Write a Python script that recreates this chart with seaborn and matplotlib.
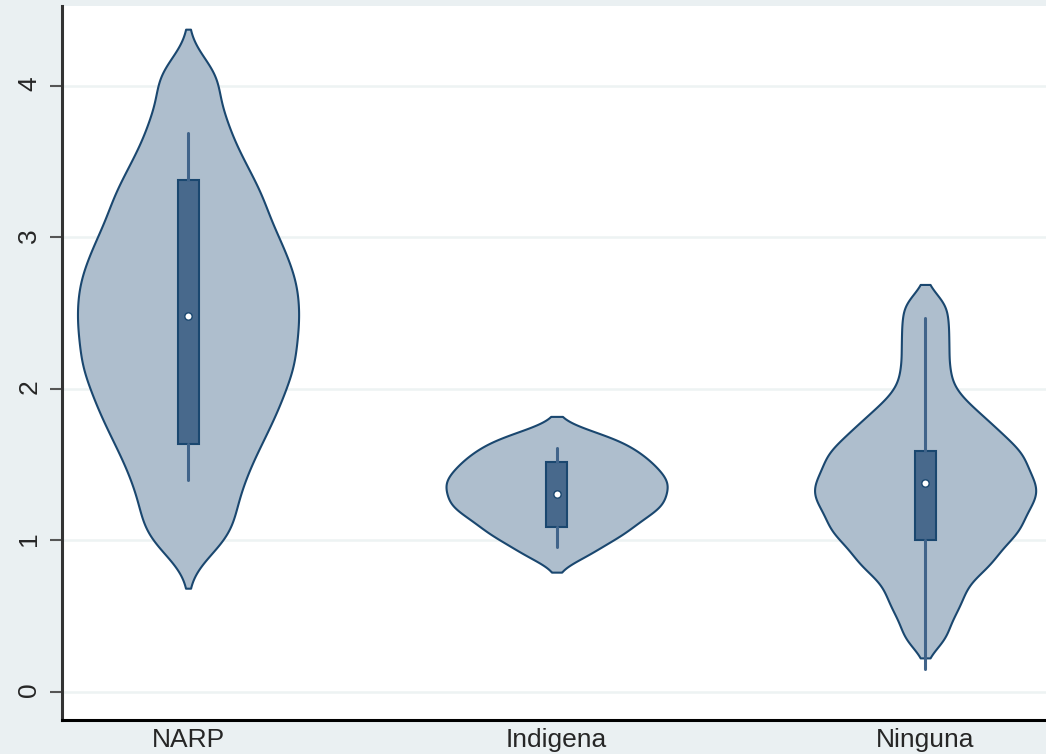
import numpy as np
import pandas as pd
import matplotlib.pyplot as plt
import seaborn as sns

# Categories on the x axis
categorias = ['NARP', 'Indigena', 'Ninguna']

# Approximate samples that give each violin its shape
narp = [1.0, 1.18, 1.35, 1.49, 1.62, 1.72, 1.83, 1.91, 2.0, 2.09,
        2.16, 2.23, 2.32, 2.39, 2.46, 2.54, 2.61, 2.69, 2.76, 2.84,
        2.93, 3.01, 3.11, 3.22, 3.32, 3.45, 3.60, 3.80, 4.06]
indigena = [0.91, 1.0, 1.05, 1.1, 1.145, 1.185, 1.22, 1.25, 1.28, 1.32,
            1.35, 1.38, 1.41, 1.445, 1.48, 1.515, 1.555, 1.595, 1.645, 1.70]
ninguna = [0.36, 0.50, 0.60, 0.68, 0.77, 0.82, 0.87, 0.91, 0.965,
           1.005, 1.04, 1.075, 1.105, 1.135, 1.18, 1.21, 1.24, 1.27, 1.30,
           1.325, 1.36, 1.385, 1.415, 1.445, 1.48, 1.515, 1.555, 1.575, 1.605,
           1.65, 1.695, 1.73, 1.78, 1.84, 1.90, 2.0, 2.13, 2.27, 2.41, 2.555]

# Inner box statistics
q1 = [1.64, 1.09, 1.00]
mediana = [2.48, 1.31, 1.38]
q3 = [3.38, 1.52, 1.59]
bigote_inf = [1.40, 0.96, 0.15]
bigote_sup = [3.69, 1.61, 2.47]

# per-group kernel half-width (absolute) and cut, Stata draws each density on its own
kernel_h = [0.15, 0.07, 0.09]
corte = [2.1, 1.7, 1.5]

muestras = [narp, indigena, ninguna]
df = pd.DataFrame({
    'grupo': ['NARP'] * len(narp) + ['Indigena'] * len(indigena) + ['Ninguna'] * len(ninguna),
    'valor': narp + indigena + ninguna,
})

sns.set_style('white')
plt.rcParams['font.family'] = ['Liberation Sans', 'DejaVu Sans']

navy = '#1a476f'
fig = plt.figure(figsize=(10.46, 7.54), dpi=100, facecolor='#eaf0f2')
ax = fig.add_axes([62 / 1046, 34 / 754, 984 / 1046, 714 / 754])
ax.set_facecolor('white')

for cat, vals, h, cut in zip(categorias, muestras, kernel_h, corte):
    sns.violinplot(data=df[df['grupo'] == cat], x='grupo', y='valor', order=categorias,
                   ax=ax, bw_method=h / np.std(vals, ddof=1), cut=cut, gridsize=300,
                   width=0.6, density_norm='width', inner=None, color='#aebecd',
                   saturation=1, linecolor=navy, linewidth=1.5)

# box + whiskers on top of the violins
stats = [dict(med=m, q1=a, q3=b, whislo=lo, whishi=hi)
         for m, a, b, lo, hi in zip(mediana, q1, q3, bigote_inf, bigote_sup)]
ax.bxp(stats, positions=range(len(categorias)), widths=0.057, showfliers=False,
       showcaps=False, patch_artist=True, manage_ticks=False,
       boxprops=dict(facecolor='#48698c', edgecolor=navy, linewidth=1.5),
       whiskerprops=dict(color='#41648a', linewidth=2.2),
       medianprops=dict(linewidth=0))
ax.scatter(range(len(categorias)), mediana, s=28, color='white',
           edgecolor=navy, linewidth=1, zorder=5)

ax.set_xlim(-0.342, 2.328)
ax.set_ylim(-0.185, 4.528)
ax.set_yticks([0, 1, 2, 3, 4])
ax.set_xlabel('')
ax.set_ylabel('')

ax.grid(axis='y', color='#edf3f3', linewidth=1.8)
ax.set_axisbelow(True)

for s in ['top', 'right']:
    ax.spines[s].set_visible(False)
ax.spines['left'].set_color('#333333')
ax.spines['left'].set_linewidth(2.2)
ax.spines['bottom'].set_color('black')
ax.spines['bottom'].set_linewidth(2.2)

ax.tick_params(axis='y', length=9, width=1.5, color='#555555', pad=6,
               labelsize=19, labelrotation=90, left=True)
ax.tick_params(axis='x', length=0, pad=6, labelsize=19)

plt.savefig('out.png', dpi=100, facecolor=fig.get_facecolor())
plt.close()
